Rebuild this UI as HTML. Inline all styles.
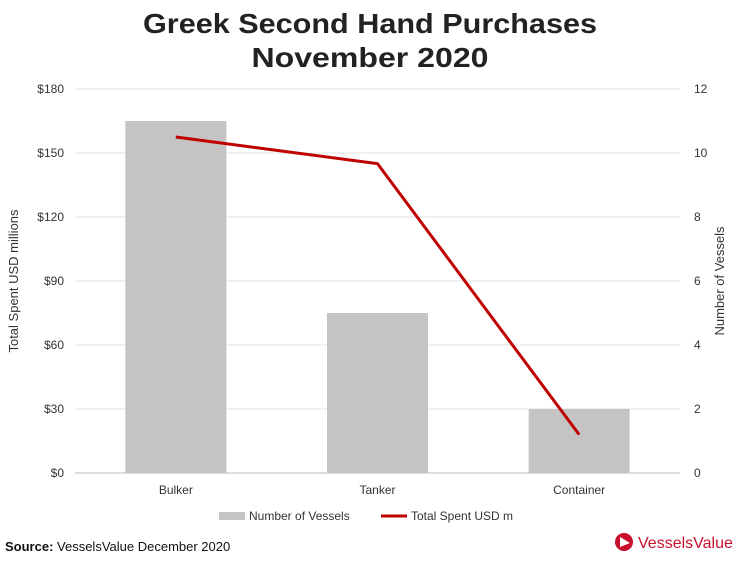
<!DOCTYPE html>
<html><head><meta charset="utf-8"><style>
body{margin:0;background:#fff;}
svg text{font-family:"Liberation Sans",Verdana,sans-serif;}
</style></head><body>
<svg width="740" height="557" viewBox="0 0 740 557" xmlns="http://www.w3.org/2000/svg">
<text x="370" y="33" text-anchor="middle" font-size="28" font-weight="bold" fill="#222" textLength="454" lengthAdjust="spacingAndGlyphs">Greek Second Hand Purchases</text>
<text x="370" y="67" text-anchor="middle" font-size="28" font-weight="bold" fill="#222" textLength="237" lengthAdjust="spacingAndGlyphs">November 2020</text>
<g id="grid"></g>
<g id="bars"></g>
<g id="line"></g>
<g id="axes"></g>
<text transform="translate(18,281) rotate(-90)" text-anchor="middle" font-size="13" fill="#333">Total Spent USD millions</text>
<text transform="translate(724,281) rotate(-90)" text-anchor="middle" font-size="13" fill="#333">Number of Vessels</text>
<rect x="219" y="512" width="26" height="8" fill="#c4c4c4"/>
<text x="249" y="520" font-size="12" fill="#333">Number of Vessels</text>
<line x1="381" y1="516" x2="407" y2="516" stroke="#c00000" stroke-width="3"/>
<text x="411" y="520" font-size="12" fill="#333">Total Spent USD m</text>
<text x="5" y="551" font-size="13" fill="#111"><tspan font-weight="bold">Source:</tspan> VesselsValue December 2020</text>
<g>
<circle cx="624" cy="542" r="9" fill="#c8102e"/>
<polygon points="620,537 630,543 620,547" fill="#fff"/>
<text x="638" y="548" font-size="16" fill="#c8102e">VesselsValue</text>
</g>
</svg>
<script>
const categories=["Bulker","Tanker","Container"];
const vessels=[11,5,2];
const spent=[157.5,145,18];
const leftTicks=[0,30,60,90,120,150,180];
const rightTicks=[0,2,4,6,8,10,12];
const NS="http://www.w3.org/2000/svg";
const x0=75,x1=680,yTop=89,yBot=473;
const yL=v=>yBot-(v/180)*(yBot-yTop);
const yR=v=>yBot-(v/12)*(yBot-yTop);
const band=(x1-x0)/categories.length;
const xc=i=>x0+band*(i+0.5);
function mk(t,a,p){const e=document.createElementNS(NS,t);for(const k in a)e.setAttribute(k,a[k]);p.appendChild(e);return e;}
const grid=document.getElementById('grid'),axes=document.getElementById('axes');
leftTicks.forEach((v,i)=>{
 const l=mk('line',{x1:x0,x2:x1,y1:yL(v),y2:yL(v),stroke:v===0?'#bbb':'#e3e3e3'},grid);
 
 
 const t=mk('text',{x:64,y:yL(v)+4,'text-anchor':'end','font-size':12,fill:'#333'},axes);
 t.textContent='$'+v;
 
 
});
rightTicks.forEach(v=>{
 const t=mk('text',{x:694,y:yR(v)+4,'font-size':12,fill:'#333'},axes);
 t.textContent=v;
 
 
});
const bars=document.getElementById('bars');
const bw=101;
categories.forEach((c,i)=>{
 const r=mk('rect',{x:xc(i)-bw/2,y:yR(vessels[i]),width:bw,height:yBot-yR(vessels[i]),fill:'#c4c4c4'},bars);
 
 
 const t=mk('text',{x:xc(i),y:494,'text-anchor':'middle','font-size':12,fill:'#333'},axes);
 t.textContent=c;
 
 
});
const pl=mk('polyline',{points:spent.map((v,i)=>xc(i)+','+yL(v)).join(' '),fill:'none',stroke:'#c00000','stroke-width':3},document.getElementById('line'));


</script>
</body></html>
